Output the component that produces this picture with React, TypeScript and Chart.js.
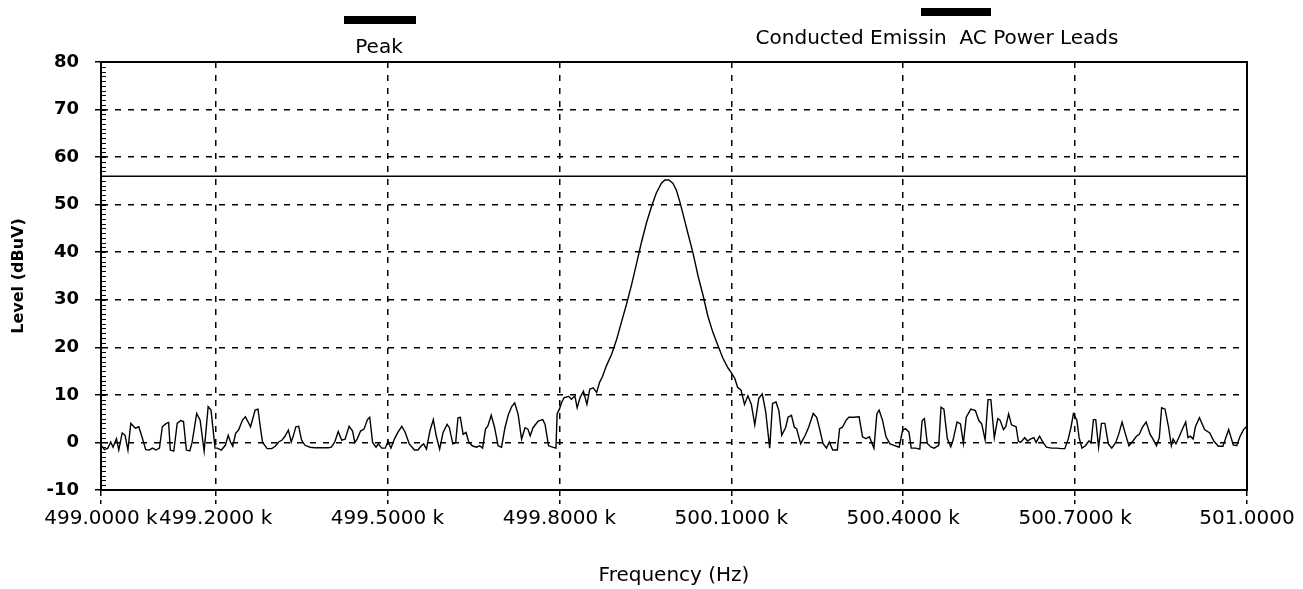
import React, { useEffect, useRef } from 'react';
import { Chart, registerables } from 'chart.js';

Chart.register(...registerables);

// Frequency in kHz of the "Peak" trace
const freqKHz = [
  499.000, 499.006, 499.012, 499.017, 499.021, 499.027, 499.031, 499.037, 499.042, 499.047,
  499.052, 499.060, 499.066, 499.072, 499.078, 499.084, 499.090, 499.096, 499.102, 499.107,
  499.114, 499.118, 499.121, 499.127, 499.133, 499.139, 499.144, 499.149, 499.155, 499.159,
  499.167, 499.173, 499.180, 499.187, 499.192, 499.199, 499.203, 499.210, 499.217, 499.222,
  499.226, 499.230, 499.235, 499.240, 499.247, 499.252, 499.261, 499.269, 499.274, 499.278,
  499.282, 499.290, 499.298, 499.304, 499.310, 499.316, 499.321, 499.327, 499.332, 499.336,
  499.340, 499.345, 499.350, 499.356, 499.365, 499.373, 499.397, 499.402, 499.408, 499.414,
  499.420, 499.426, 499.433, 499.439, 499.443, 499.447, 499.453, 499.459, 499.465, 499.469,
  499.474, 499.480, 499.484, 499.490, 499.496, 499.501, 499.506, 499.512, 499.518, 499.525,
  499.531, 499.538, 499.547, 499.553, 499.559, 499.563, 499.568, 499.574, 499.580, 499.585,
  499.591, 499.597, 499.604, 499.608, 499.614, 499.619, 499.623, 499.627, 499.632, 499.637,
  499.642, 499.648, 499.655, 499.661, 499.666, 499.671, 499.675, 499.681, 499.687, 499.693,
  499.699, 499.705, 499.711, 499.717, 499.722, 499.728, 499.734, 499.740, 499.745, 499.749,
  499.754, 499.763, 499.771, 499.775, 499.781, 499.788, 499.794, 499.796, 499.800, 499.804,
  499.808, 499.816, 499.821, 499.827, 499.831, 499.836, 499.842, 499.848, 499.853, 499.859,
  499.865, 499.870, 499.875, 499.882, 499.891, 499.900, 499.908, 499.917, 499.926, 499.935,
  499.943, 499.952, 499.961, 499.969, 499.978, 499.984, 499.991, 499.998, 500.004, 500.010,
  500.016, 500.024, 500.033, 500.042, 500.051, 500.059, 500.068, 500.077, 500.085, 500.094,
  500.100, 500.106, 500.111, 500.117, 500.123, 500.129, 500.135, 500.141, 500.148, 500.154,
  500.160, 500.167, 500.172, 500.178, 500.183, 500.188, 500.195, 500.199, 500.205, 500.210,
  500.214, 500.221, 500.229, 500.235, 500.243, 500.249, 500.254, 500.260, 500.266, 500.271,
  500.277, 500.285, 500.289, 500.294, 500.300, 500.305, 500.314, 500.323, 500.329, 500.335,
  500.341, 500.349, 500.354, 500.358, 500.364, 500.370, 500.377, 500.384, 500.393, 500.399,
  500.404, 500.410, 500.414, 500.422, 500.429, 500.433, 500.437, 500.442, 500.449, 500.454,
  500.462, 500.466, 500.471, 500.477, 500.483, 500.487, 500.494, 500.500, 500.505, 500.510,
  500.518, 500.526, 500.532, 500.537, 500.543, 500.548, 500.553, 500.559, 500.565, 500.569,
  500.575, 500.579, 500.584, 500.589, 500.597, 500.601, 500.605, 500.612, 500.617, 500.622,
  500.628, 500.632, 500.638, 500.644, 500.650, 500.659, 500.668, 500.676, 500.682, 500.688,
  500.693, 500.697, 500.703, 500.707, 500.712, 500.718, 500.724, 500.728, 500.732, 500.736,
  500.741, 500.746, 500.752, 500.758, 500.764, 500.771, 500.776, 500.782, 500.788, 500.794,
  500.801, 500.807, 500.812, 500.818, 500.824, 500.831, 500.836, 500.842, 500.847, 500.851,
  500.857, 500.863, 500.868, 500.871, 500.876, 500.882, 500.888, 500.893, 500.897, 500.901,
  500.906, 500.910, 500.917, 500.926, 500.935, 500.942, 500.950, 500.958, 500.963, 500.968,
  500.973, 500.976, 500.982, 500.988, 500.994, 500.999,
];

// Level in dBuV of the "Peak" trace
const levelDbuv = [
  -0.5, -1.5, -1.2, 0.1, -1.0, 0.8, -1.6, 2.0, 1.5, -1.6,
  4.0, 3.0, 3.3, 1.0, -1.5, -1.6, -1.2, -1.6, -1.2, 3.3,
  4.0, 4.2, -1.6, -1.8, 4.0, 4.6, 4.4, -1.6, -1.8, 0.0,
  6.1, 4.7, -1.8, 7.5, 6.8, -1.2, -1.2, -1.6, -0.6, 1.5,
  0.1, -0.8, 1.9, 2.6, 4.7, 5.4, 3.3, 6.8, 7.0, 3.3,
  0.0, -1.3, -1.3, -0.8, 0.1, 0.5, 1.3, 2.6, 0.1, 1.5,
  3.3, 3.4, 0.5, -0.6, -1.0, -1.1, -1.1, -1.0, 0.1, 2.3,
  0.5, 0.7, 3.4, 2.4, 0.0, 0.7, 2.4, 2.8, 4.8, 5.3,
  0.0, -1.0, -0.3, -1.2, -1.2, 0.3, -1.2, 0.7, 2.1, 3.4,
  2.1, -0.3, -1.6, -1.6, -0.7, -0.3, -1.4, 2.4, 4.8, 1.4,
  -1.4, 2.1, 3.8, 3.1, -0.3, 0.0, 5.2, 5.3, 1.7, 2.1,
  0.0, -0.7, -1.0, -0.7, -1.2, 2.8, 3.4, 5.7, 3.1, -0.7,
  -1.0, 3.1, 5.9, 7.6, 8.3, 5.9, 0.7, 3.1, 2.8, 1.4,
  3.1, 4.5, 4.8, 3.8, -0.7, -1.0, -1.2, 6.0, 7.0, 8.4,
  9.4, 9.7, 9.1, 9.8, 7.3, 9.4, 10.8, 8.0, 11.2, 11.5,
  10.5, 12.6, 13.8, 16.1, 18.5, 21.7, 25.2, 29.0, 33.2, 37.8,
  42.0, 46.2, 49.7, 52.4, 54.5, 55.2, 55.2, 54.5, 53.1, 50.7,
  47.9, 44.1, 39.9, 35.0, 30.8, 26.6, 23.1, 20.3, 17.8, 15.7,
  14.7, 13.5, 11.6, 11.0, 8.0, 9.8, 8.0, 3.7, 9.3, 10.2,
  6.5, -1.2, 8.2, 8.5, 6.7, 1.5, 3.2, 5.3, 5.7, 3.2,
  2.9, -0.3, 1.5, 3.2, 6.1, 5.3, 2.9, -0.2, -1.2, 0.1,
  -1.6, -1.6, 2.9, 3.2, 4.6, 5.3, 5.3, 5.4, 1.2, 0.8,
  1.2, -1.2, 6.0, 6.8, 4.6, 1.2, -0.3, -0.6, -1.0, 2.6,
  2.9, 2.2, -1.2, -1.2, -1.4, 4.6, 5.0, -0.2, -1.0, -1.2,
  -0.6, 7.4, 7.0, 0.8, -0.9, 0.5, 4.3, 3.9, -0.2, 5.3,
  7.0, 6.7, 4.6, 3.9, 0.5, 9.0, 9.0, 1.0, 5.0, 4.7,
  2.7, 3.3, 6.0, 3.7, 3.3, 0.3, 0.0, 1.0, 0.3, 0.7,
  1.0, 0.0, 1.3, 0.0, -1.0, -1.2, -1.2, -1.3, -1.3, 0.7,
  3.3, 6.0, 4.7, 1.0, -1.2, -0.7, 0.3, 0.0, 4.8, 4.8,
  -1.0, 4.0, 4.0, -0.3, -1.2, 0.0, 1.7, 4.3, 1.7, -0.7,
  0.3, 1.3, 1.7, 3.3, 4.3, 1.7, 0.7, -0.7, 1.0, 7.3,
  7.0, 3.3, -0.7, 0.7, -0.3, 1.3, 3.0, 4.3, 1.0, 1.3,
  0.7, 3.3, 5.2, 2.7, 2.0, 0.3, -0.8, -0.8, 1.0, 2.7,
  0.7, -0.5, -0.7, 1.3, 2.7, 3.3,
];

// Limit line "Conducted Emissin  AC Power Leads"
const limitFreq = [499.0, 501.0];
const limitLevel = [56, 56];

const xTickValues = [499.0, 499.2, 499.5, 499.8, 500.1, 500.4, 500.7, 501.0];
const xTickLabels = ['499.0000 k', '499.2000 k', '499.5000 k', '499.8000 k', '500.1000 k', '500.4000 k', '500.7000 k', '501.0000'];
const yMin = -10;
const yMax = 80;
const yStep = 10;

const legendLabels = ['Peak', 'Conducted Emissin  AC Power Leads'];
const xTitle = 'Frequency (Hz)';
const yTitle = 'Level (dBuV)';

const FONT = "'DejaVu Sans', Verdana, sans-serif";

const framePlugin = {
  id: 'frameAndMinor',
  afterDraw(chart: any) {
    const { ctx, chartArea: a, scales } = chart;
    ctx.save();
    ctx.strokeStyle = '#000';
    ctx.setLineDash([]);
    ctx.lineWidth = 2;
    ctx.strokeRect(a.left, a.top, a.right - a.left, a.bottom - a.top);
    ctx.lineWidth = 1;
    const ys = scales.y;
    for (let v = ys.min; v <= ys.max; v += 1) {
      const py = Math.round(ys.getPixelForValue(v)) + 0.5;
      ctx.beginPath();
      ctx.moveTo(a.left, py);
      ctx.lineTo(a.left + 5, py);
      ctx.stroke();
    }
    ctx.restore();
  },
};

export default function App() {
  const ref = useRef<HTMLCanvasElement | null>(null);

  useEffect(() => {
    if (!ref.current) return;
    const chart = new Chart(ref.current, {
      type: 'line',
      data: {
        datasets: [
          {
            label: legendLabels[0],
            data: freqKHz.map((f, i) => ({ x: f, y: levelDbuv[i] })),
            borderColor: '#000',
            borderWidth: 1.4,
            pointRadius: 0,
            tension: 0,
          },
          {
            label: legendLabels[1],
            data: limitFreq.map((f, i) => ({ x: f, y: limitLevel[i] })),
            borderColor: '#000',
            borderWidth: 1.5,
            pointRadius: 0,
            tension: 0,
          },
        ],
      },
      options: {
        responsive: false,
        animation: false,
        devicePixelRatio: 1,
        layout: { padding: { top: 62, right: 56, left: 0, bottom: 0 } },
        plugins: {
          legend: { display: false },
          tooltip: { enabled: false },
        },
        scales: {
          x: {
            type: 'linear',
            min: 499.0,
            max: 501.0,
            afterBuildTicks: (s: any) => {
              s.ticks = xTickValues.map((v) => ({ value: v }));
            },
            afterFit: (s: any) => {
              s.height = 99;
            },
            ticks: {
              autoSkip: false,
              maxRotation: 0,
              minRotation: 0,
              padding: 3,
              color: '#000',
              font: { family: FONT, size: 20 },
              callback: (_v: any, i: number) => xTickLabels[i],
            },
            grid: {
              color: '#000',
              lineWidth: 1.5,
              tickLength: 14,
              tickColor: '#000',
              tickWidth: 1.5,
              tickBorderDash: [5, 4],
            },
            border: { display: true, color: '#000', width: 2, dash: [6, 7] },
            title: {
              display: true,
              text: xTitle,
              color: '#000',
              font: { family: FONT, size: 20 },
              padding: { top: 0, bottom: 1 },
            },
          },
          y: {
            type: 'linear',
            min: yMin,
            max: yMax,
            afterFit: (s: any) => {
              s.width = 101;
            },
            ticks: {
              stepSize: yStep,
              padding: 16,
              color: '#000',
              font: { family: FONT, size: 18, weight: 'bold' },
            },
            grid: {
              color: '#000',
              lineWidth: 1.5,
              tickLength: 6,
              tickColor: '#000',
              tickWidth: 1.5,
            },
            border: { display: true, color: '#000', width: 2, dash: [6, 7] },
            title: {
              display: true,
              text: yTitle,
              color: '#000',
              font: { family: FONT, size: 16, weight: 'bold' },
              padding: { top: 9, bottom: 0 },
            },
          },
        },
      },
      plugins: [framePlugin],
    } as any);
    return () => chart.destroy();
  }, []);

  const legendText: React.CSSProperties = {
    position: 'absolute',
    fontFamily: FONT,
    fontSize: 20,
    color: '#000',
    whiteSpace: 'pre',
    transform: 'translateX(-50%)',
    lineHeight: '22px',
  };

  return (
    <div style={{ position: 'absolute', left: 0, top: 0, width: 1303, height: 589, background: '#fff', overflow: 'hidden' }}>
      <canvas ref={ref} width={1303} height={589} style={{ display: 'block', width: 1303, height: 589 }} />
      <div style={{ position: 'absolute', left: 344, top: 16, width: 72, height: 8, background: '#000' }} />
      <div style={{ ...legendText, left: 379, top: 35 }}>{legendLabels[0]}</div>
      <div style={{ position: 'absolute', left: 921, top: 8, width: 70, height: 8, background: '#000' }} />
      <div style={{ ...legendText, left: 937, top: 26 }}>{legendLabels[1]}</div>
    </div>
  );
}
